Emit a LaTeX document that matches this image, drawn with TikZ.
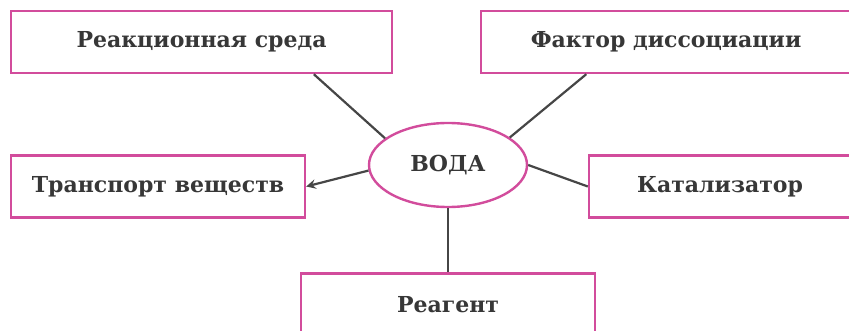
\documentclass[tikz,border=0pt]{standalone}
\usepackage{fontspec}
\setmainfont{DejaVu Serif}
\usepackage{xcolor}
\usetikzlibrary{shapes.geometric}
\definecolor{boxpink}{RGB}{210,76,156}
\definecolor{textgray}{RGB}{55,55,55}
\definecolor{linegray}{RGB}{70,70,70}

\begin{document}
\begin{tikzpicture}[x=0.5pt, y=-0.5pt,
    topic/.style={draw=boxpink, line width=1.2pt, rectangle, minimum height=31pt,
                  inner sep=0pt, text=textgray, font=\bfseries\fontsize{11}{13}\selectfont},
    hub/.style={draw=boxpink, line width=1.2pt, ellipse, minimum width=79pt,
                minimum height=42pt, inner sep=0pt, text=textgray,
                font=\bfseries\fontsize{11}{13}\selectfont},
    link/.style={linegray, line width=1.1pt}]
    \useasboundingbox (0,0) rectangle (849,331);

    % Draw the central node
    \node[hub] (voda) at (448,165) {ВОДА};

    % Draw the surrounding boxes
    \node[topic, minimum width=190.5pt] (sreda) at (201.5,42) {Реакционная среда};
    \node[topic, minimum width=185pt] (faktor) at (666,42) {Фактор диссоциации};
    \node[topic, minimum width=147pt] (transport) at (158,186.5) {Транспорт веществ};
    \node[topic, minimum width=131pt] (kataliz) at (720,186.5) {Катализатор};
    \node[topic, minimum width=147pt] (reagent) at (448,304.5) {Реагент};

    % Connect them to the centre
    \draw[link] (voda.157) -- (sreda.-16);
    \draw[link] (voda.24) -- (faktor.202);
    \draw[link, -stealth] (voda.184) -- (transport.east);
    \draw[link] (voda.east) -- (kataliz.west);
    \draw[link] (voda.south) -- (reagent.north);
\end{tikzpicture}
\end{document}
